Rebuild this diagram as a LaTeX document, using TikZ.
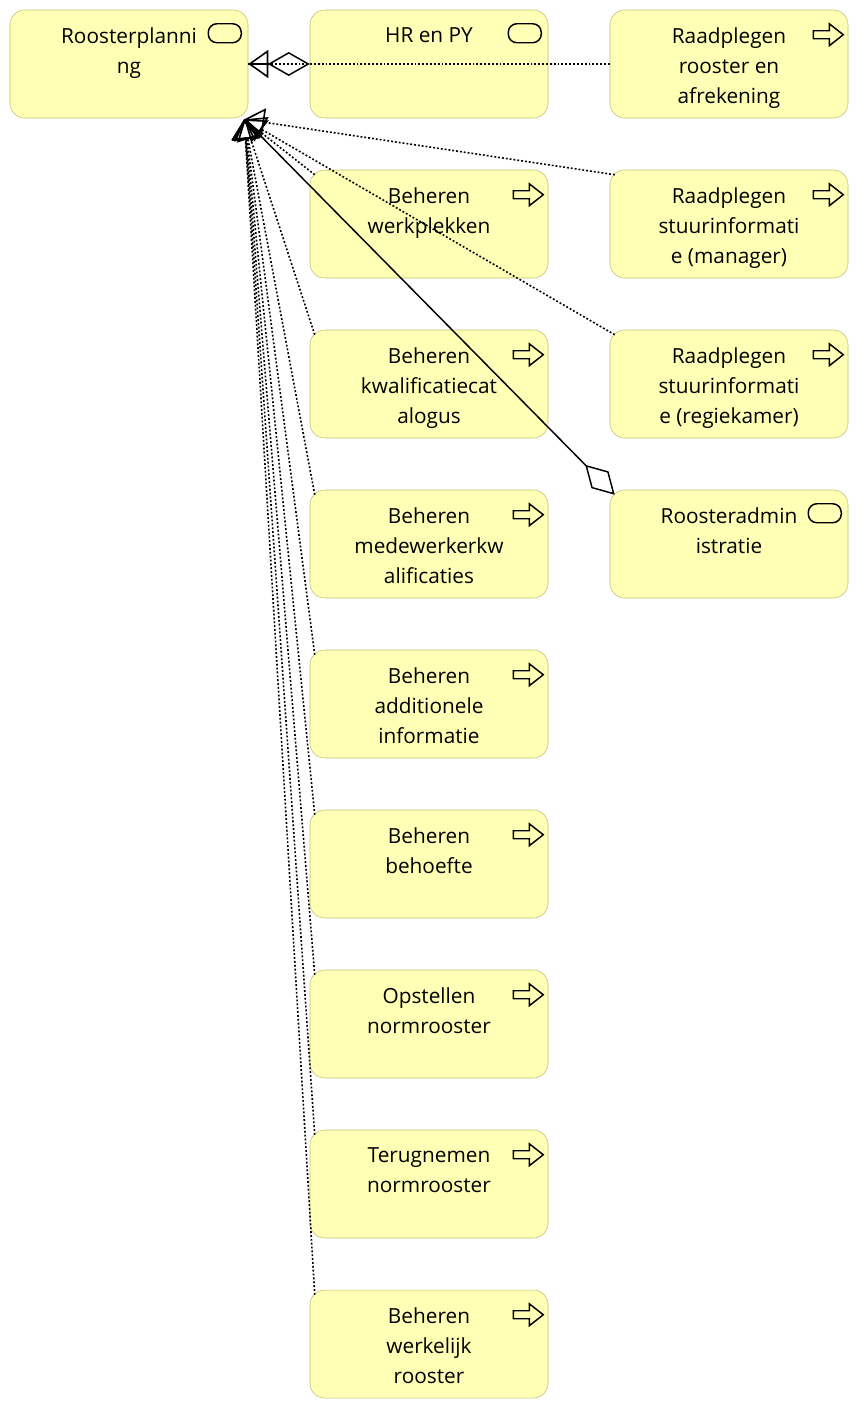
\documentclass[tikz,border=0pt]{standalone}
\usepackage{fontspec}
\setmainfont{Open Sans}
\usetikzlibrary{arrows.meta}
\definecolor{bizfill}{RGB}{255,255,181}
\definecolor{bizline}{RGB}{190,190,110}

\begin{document}
\begin{tikzpicture}[x=0.75pt, y=-0.75pt,
  box/.style={draw=bizline, fill=bizfill, rounded corners=11pt,
    minimum width=178.5pt, minimum height=81pt, inner sep=0pt},
  txt/.style={anchor=north, yshift=-13.5pt, align=center, inner sep=0pt,
    font=\fontsize{15.6}{22.5}\selectfont},
  icon/.style={draw=black, line width=1.1pt},
  real/.style={draw, line width=1.2pt, dash pattern=on 1.4pt off 1.5pt,
    -{Triangle[open, length=15pt, width=21pt]}},
  aggr/.style={draw, line width=1.1pt,
    {Diamond[open, fill=white, length=31.5pt, width=18pt]}-},
]
\useasboundingbox (0,0) rectangle (860,1410);

% left column
\node[box, label={[txt]north:Roosterplanni\\ng}] (rp) at (129,64) {};

% middle column
\node[box, label={[txt]north:HR en PY}] (hr) at (429,64) {};
\node[box, label={[txt]north:Beheren\\werkplekken}] (bw) at (429,224) {};
\node[box, label={[txt]north:Beheren\\kwalificatiecat\\alogus}] (bk) at (429,384) {};
\node[box, label={[txt]north:Beheren\\medewerkerkw\\alificaties}] (bm) at (429,544) {};
\node[box, label={[txt]north:Beheren\\additionele\\informatie}] (ba) at (429,704) {};
\node[box, label={[txt]north:Beheren\\behoefte}] (bb) at (429,864) {};
\node[box, label={[txt]north:Opstellen\\normrooster}] (on) at (429,1024) {};
\node[box, label={[txt]north:Terugnemen\\normrooster}] (tn) at (429,1184) {};
\node[box, label={[txt]north:Beheren\\werkelijk\\rooster}] (bwr) at (429,1344) {};

% right column
\node[box, label={[txt]north:Raadplegen\\rooster en\\afrekening}] (ra) at (729,64) {};
\node[box, label={[txt]north:Raadplegen\\stuurinformati\\e (manager)}] (rsm) at (729,224) {};
\node[box, label={[txt]north:Raadplegen\\stuurinformati\\e (regiekamer)}] (rsr) at (729,384) {};
\node[box, label={[txt]north:Roosteradmin\\istratie}] (radm) at (729,544) {};

% service icons
\foreach \n in {rp, hr, radm}
  \draw[icon, rounded corners=6.5pt] ([shift={(-40,14)}]\n.north east) rectangle ([shift={(-7,33)}]\n.north east);

% process icons
\foreach \n in {ra, bw, rsm, bk, rsr, bm, ba, bb, on, tn, bwr}
  \draw[icon] ([shift={(-35,21)}]\n.north east) -- ++(16,0) -- ++(0,-7) -- ++(14,11)
    -- ++(-14,11) -- ++(0,-7) -- ++(-16,0) -- cycle;

% relations
\coordinate (hub) at ([shift={(-4,1)}]rp.south east);
\draw[aggr] (hr.west) -- (rp.east);
\draw[aggr] ([shift={(5,5)}]radm.north west) -- (hub);
\draw[real] (ra.west) -- (rp.east);
\foreach \n in {rsm, rsr, bw, bk, bm, ba, bb, on, tn, bwr}
  \draw[real] ([shift={(5,5)}]\n.north west) -- (hub);
\end{tikzpicture}
\end{document}
